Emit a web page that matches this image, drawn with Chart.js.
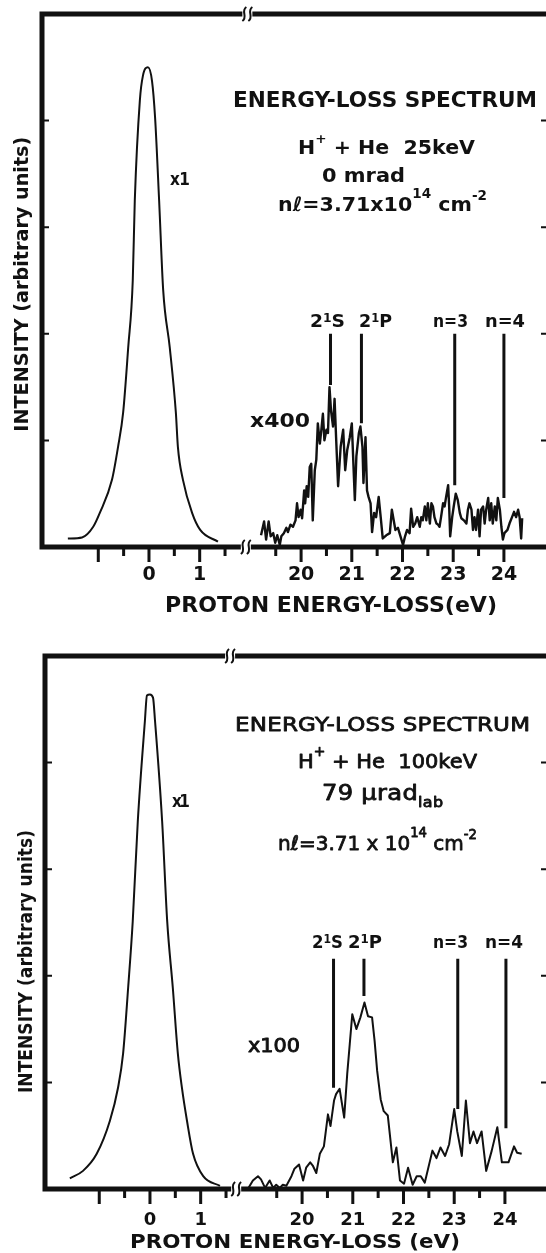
<!DOCTYPE html>
<html>
<head>
<meta charset="utf-8">
<script src="https://cdn.jsdelivr.net/npm/chart.js@4.4.1/dist/chart.umd.min.js"></script>
<style>
  html, body { margin: 0; padding: 0; background: #fff; }
  #wrap { position: relative; width: 546px; height: 1253px; overflow: hidden; }
  canvas { position: absolute; left: 0; }
</style>
</head>
<body>
<div id="wrap">
  <canvas id="top" width="546" height="620" style="top:0"></canvas>
  <canvas id="bot" width="546" height="633" style="top:620px"></canvas>
</div>
<script>
// ---- data (energy loss in eV, intensity in arbitrary units) ----
// the axis is broken: energies above BREAK_E are drawn shifted left by AXIS_SHIFT
const BREAK_E = 10;
const AXIS_SHIFT = 17;

// panel 1: H+ + He 25 keV, 0 mrad
const peak1E = [-1.60, -1.32, -1.10, -0.97, -0.73, -0.61, -0.51, -0.41, -0.32, -0.28, -0.18, -0.12, -0.02, 0.06, 0.12, 0.20, 0.28, 0.41, 0.53, 0.57, 0.67, 0.85, 1.01, 1.36];
const peak1I = [0.08, 0.09, 0.19, 0.32, 0.63, 0.94, 1.26, 1.87, 2.50, 3.25, 4.19, 4.42, 4.50, 4.37, 4.03, 3.25, 2.41, 1.87, 1.26, 0.94, 0.63, 0.32, 0.16, 0.05];
const spec1E = [19.21, 19.27, 19.31, 19.36, 19.40, 19.45, 19.49, 19.53, 19.58, 19.61,
  19.66, 19.71, 19.74, 19.79, 19.84, 19.89, 19.92, 19.95, 19.99, 20.02,
  20.06, 20.08, 20.11, 20.14, 20.17, 20.20, 20.23, 20.27, 20.30, 20.33,
  20.37, 20.40, 20.43, 20.46, 20.50, 20.53, 20.56, 20.59, 20.63, 20.66,
  20.69, 20.73, 20.78, 20.83, 20.87, 20.91, 20.96, 21.00, 21.06, 21.09,
  21.14, 21.17, 21.21, 21.23, 21.27, 21.30, 21.33, 21.37, 21.40, 21.44,
  21.48, 21.53, 21.57, 21.61, 21.68, 21.75, 21.79, 21.86, 21.91, 21.96,
  22.01, 22.05, 22.09, 22.14, 22.17, 22.21, 22.25, 22.29, 22.34, 22.37,
  22.40, 22.44, 22.47, 22.50, 22.54, 22.57, 22.60, 22.63, 22.67, 22.70,
  22.73, 22.76, 22.80, 22.83, 22.86, 22.90, 22.92, 22.94, 22.98, 23.01,
  23.05, 23.09, 23.13, 23.16, 23.21, 23.26, 23.29, 23.32, 23.36, 23.39,
  23.42, 23.45, 23.49, 23.52, 23.55, 23.59, 23.62, 23.65, 23.69, 23.72,
  23.75, 23.78, 23.82, 23.85, 23.88, 23.92, 23.95, 23.98, 24.01, 24.07,
  24.11, 24.16, 24.20, 24.24, 24.28, 24.31, 24.34, 24.36];
const spec1I = [0.11, 0.24, 0.07, 0.24, 0.10, 0.13, 0.04, 0.11, 0.02, 0.10,
  0.13, 0.18, 0.14, 0.21, 0.19, 0.25, 0.41, 0.28, 0.35, 0.27,
  0.53, 0.41, 0.57, 0.47, 0.75, 0.78, 0.25, 0.72, 0.82, 1.16,
  0.97, 1.10, 1.25, 1.00, 1.10, 1.07, 1.50, 1.28, 1.13, 1.39,
  1.03, 0.57, 0.94, 1.10, 0.72, 0.91, 1.03, 1.16, 0.44, 0.85,
  1.07, 1.13, 0.94, 0.60, 1.03, 0.53, 0.47, 0.41, 0.14, 0.32,
  0.28, 0.47, 0.28, 0.08, 0.11, 0.13, 0.35, 0.16, 0.18, 0.10,
  0.02, 0.10, 0.16, 0.13, 0.36, 0.19, 0.22, 0.28, 0.19, 0.28,
  0.25, 0.38, 0.25, 0.41, 0.22, 0.41, 0.38, 0.28, 0.22, 0.21,
  0.19, 0.28, 0.41, 0.38, 0.47, 0.58, 0.38, 0.10, 0.28, 0.38,
  0.50, 0.44, 0.32, 0.27, 0.25, 0.22, 0.35, 0.41, 0.35, 0.16,
  0.28, 0.16, 0.35, 0.10, 0.35, 0.38, 0.22, 0.35, 0.46, 0.25,
  0.41, 0.22, 0.38, 0.25, 0.46, 0.35, 0.19, 0.07, 0.13, 0.16,
  0.22, 0.28, 0.33, 0.28, 0.35, 0.28, 0.08, 0.27];
const level1E = [20.58, 21.19, 23.03, 24.00];
const level1Low = [1.52, 1.16, 0.58, 0.46];
const level1High = 2.00;

// panel 2: H+ + He 100 keV, 79 urad lab
const peak2E = [-1.58, -1.32, -1.05, -0.79, -0.63, -0.53, -0.43, -0.34, -0.24, -0.10, -0.06, 0, 0.06, 0.10, 0.24, 0.34, 0.45, 0.55, 0.63, 0.73, 0.85, 1.05, 1.38];
const peak2I = [0.10, 0.17, 0.33, 0.64, 0.95, 1.27, 1.89, 2.51, 3.45, 4.39, 4.63, 4.64, 4.61, 4.39, 3.45, 2.51, 1.89, 1.27, 0.95, 0.64, 0.33, 0.12, 0.03];
const spec2E = [18.93, 19.03, 19.13, 19.19, 19.27, 19.36, 19.43, 19.49, 19.56, 19.62,
  19.69, 19.79, 19.85, 19.94, 20.02, 20.08, 20.16, 20.21, 20.28, 20.35,
  20.43, 20.51, 20.56, 20.63, 20.67, 20.74, 20.83, 20.89, 20.94, 20.99,
  21.07, 21.15, 21.23, 21.30, 21.38, 21.43, 21.48, 21.55, 21.61, 21.69,
  21.79, 21.86, 21.93, 22.01, 22.09, 22.18, 22.26, 22.34, 22.42, 22.57,
  22.65, 22.73, 22.82, 22.90, 23.00, 23.06, 23.15, 23.23, 23.31, 23.38,
  23.45, 23.54, 23.63, 23.74, 23.85, 23.94, 24.07, 24.18, 24.24, 24.33];
const spec2I = [0.00, 0.08, 0.12, 0.09, 0.01, 0.08, 0.01, 0.04, 0.01, 0.04,
  0.03, 0.12, 0.19, 0.23, 0.08, 0.20, 0.25, 0.22, 0.15, 0.33,
  0.40, 0.70, 0.59, 0.83, 0.89, 0.94, 0.67, 1.08, 1.36, 1.64,
  1.50, 1.61, 1.75, 1.62, 1.61, 1.39, 1.11, 0.84, 0.73, 0.69,
  0.25, 0.39, 0.08, 0.05, 0.20, 0.04, 0.12, 0.12, 0.06, 0.36,
  0.29, 0.39, 0.31, 0.42, 0.75, 0.54, 0.31, 0.83, 0.43, 0.54,
  0.43, 0.54, 0.17, 0.36, 0.58, 0.25, 0.25, 0.40, 0.34, 0.33];
const level2E = [20.62, 21.22, 23.07, 24.02];
const level2Low = [0.95, 1.81, 0.75, 0.57];
const level2High = 2.16;

// axes
const majorTicks = [-1, 0, 1, 20, 21, 22, 23, 24];
const tickLabels = ['', '0', '1', '20', '21', '22', '23', '24'];
const minorTicks = [-0.5, 0.5, 1.5, 19.5, 20.5, 21.5, 22.5, 23.5];
const yTicks = [1, 2, 3, 4];

// ---- helpers ----
const INK = '#111';
const FAMILY = '"DejaVu Sans", sans-serif';
const toAxis = e => e > BREAK_E ? e - AXIS_SHIFT : e;
const pts = (xs, ys) => xs.map((e, i) => ({ x: toAxis(e), y: ys[i] }));
const levelPts = (es, lows, high) => es.flatMap((e, i) => [
  { x: toAxis(e), y: lows[i] }, { x: toAxis(e), y: high }, { x: toAxis(e), y: null }
]);

// text made of parts [string, raise]; raise != 0 means small raised/lowered text.
// the lettering is stretched (a bit of width, the rest as spacing) to run from x1 to x2
function drawRich(ctx, parts, x1, x2, base, size, weight, thick) {
  if (typeof parts === 'string') parts = [[parts, 0]];
  ctx.letterSpacing = '0px';
  const segs = parts.map(([t, r]) => {
    const s = r ? size * 0.66 : size;
    ctx.font = `${weight} ${s}px ${FAMILY}`;
    return { t, r, s, w: ctx.measureText(t).width, n: [...t].length };
  });
  const n = segs.reduce((a, g) => a + g.n, 0);
  const natural = segs.reduce((a, g) => a + g.w, 0);
  const target = x2 - x1;
  const sx = Math.min(1.15, Math.max(0.85, target / natural));
  const gap = n > 1 ? (target - natural * sx) / (n - 1) / sx : 0;
  ctx.save();
  ctx.translate(x1, base);
  ctx.scale(sx, 1);
  ctx.strokeStyle = INK;
  ctx.lineWidth = thick || 0;
  ctx.lineJoin = 'round';
  let x = 0;
  segs.forEach(g => {
    ctx.font = `${weight} ${g.s}px ${FAMILY}`;
    ctx.letterSpacing = gap + 'px';
    ctx.fillText(g.t, x, -g.r * size);
    if (thick) ctx.strokeText(g.t, x, -g.r * size);
    x += g.w + gap * g.n;
  });
  ctx.restore();
  ctx.letterSpacing = '0px';
}

function squiggle(ctx, px, py) {
  ctx.fillStyle = '#fff';
  ctx.fillRect(px - 5, py - 4, 10, 8);
  ctx.lineWidth = 2;
  for (const dx of [-3, 3]) {
    ctx.beginPath();
    ctx.moveTo(px + dx - 2, py + 7);
    ctx.bezierCurveTo(px + dx + 4, py + 3, px + dx - 4, py - 3, px + dx + 2, py - 7);
    ctx.stroke();
  }
}

function framePlugin(o) {
  return {
    id: 'frame',
    afterDatasetsDraw(chart) {
      const { ctx, chartArea: a, scales: { x, y } } = chart;
      ctx.save();
      ctx.strokeStyle = INK;
      ctx.lineWidth = 5;
      ctx.beginPath();
      ctx.moveTo(a.left - 2.5, a.top); ctx.lineTo(a.right, a.top);
      ctx.moveTo(a.left - 2.5, a.bottom); ctx.lineTo(a.right, a.bottom);
      ctx.moveTo(a.left, a.top); ctx.lineTo(a.left, a.bottom);
      ctx.stroke();
      // x ticks hang below the axis
      ctx.lineWidth = 3;
      ctx.beginPath();
      majorTicks.forEach(v => { const px = x.getPixelForValue(toAxis(v)); ctx.moveTo(px, a.bottom); ctx.lineTo(px, a.bottom + 15); });
      minorTicks.forEach(v => { const px = x.getPixelForValue(toAxis(v)); ctx.moveTo(px, a.bottom); ctx.lineTo(px, a.bottom + 9); });
      ctx.stroke();
      // y ticks point inwards, on both sides
      ctx.lineWidth = 2;
      ctx.beginPath();
      yTicks.forEach(v => {
        const py = y.getPixelForValue(v);
        ctx.moveTo(a.left, py); ctx.lineTo(a.left + 7, py);
        ctx.moveTo(a.right - 5, py); ctx.lineTo(a.right, py);
      });
      ctx.stroke();
      squiggle(ctx, x.getPixelForValue(o.breakTop), a.top);
      squiggle(ctx, x.getPixelForValue(o.breakBottom), a.bottom);
      ctx.restore();
    },
    afterDraw(chart) {
      const ctx = chart.ctx;
      ctx.save();
      ctx.fillStyle = INK;
      ctx.textBaseline = 'alphabetic';
      ctx.textAlign = 'left';
      o.texts.forEach(t => {
        if (t.rot) {
          ctx.save();
          ctx.translate(t.x, t.y1);
          ctx.rotate(-Math.PI / 2);
          drawRich(ctx, t.p, 0, t.y1 - t.y2, 0, t.s, t.w, t.k);
          ctx.restore();
        } else {
          drawRich(ctx, t.p, t.x1, t.x2, t.b, t.s, t.w, t.k);
        }
      });
      ctx.restore();
    }
  };
}

function makeChart(id, o) {
  return new Chart(document.getElementById(id), {
    type: 'line',
    data: {
      datasets: [
        { data: o.peak, borderColor: INK, borderWidth: 2, cubicInterpolationMode: 'monotone' },
        { data: o.spec, borderColor: INK, borderWidth: o.specWidth, tension: 0 },
        { data: o.levels, borderColor: INK, borderWidth: 3, spanGaps: false }
      ]
    },
    options: {
      responsive: false,
      animation: false,
      devicePixelRatio: 1,
      layout: { padding: { left: o.left, top: o.top, right: 0, bottom: 0 } },
      elements: {
        point: { radius: 0 },
        line: { fill: false, borderJoinStyle: 'round', borderCapStyle: 'butt' }
      },
      plugins: { legend: { display: false }, tooltip: { enabled: false }, colors: { enabled: false } },
      scales: {
        x: {
          type: 'linear', min: o.xmin, max: o.xmax,
          border: { display: false },
          grid: { display: false, drawTicks: false },
          afterBuildTicks: s => { s.ticks = majorTicks.map(v => ({ value: toAxis(v) })); },
          afterFit: s => { s.height = o.axisH; },
          ticks: {
            padding: o.tickPad, color: INK, maxRotation: 0, autoSkip: false,
            font: { family: FAMILY, size: o.tickSize, weight: 'bold' },
            callback: (v, i) => tickLabels[i]
          }
        },
        y: { display: false, min: 0, max: 5 }
      }
    },
    plugins: [framePlugin(o)]
  });
}

const B = 'bold', N = 'normal';

makeChart('top', {
  peak: pts(peak1E, peak1I), spec: pts(spec1E, spec1I), levels: levelPts(level1E, level1Low, level1High),
  specWidth: 2.4, left: 42, top: 14, axisH: 73, xmin: -2.11, xmax: 7.83,
  tickPad: 17, tickSize: 19, breakTop: 1.94, breakBottom: 1.91,
  texts: [
    { p: 'ENERGY-LOSS SPECTRUM', x1: 233, x2: 537, b: 107, s: 21, w: B },
    { p: [['H', 0], ['+', 0.6], [' + He  25keV', 0]], x1: 298, x2: 475, b: 154, s: 19, w: B },
    { p: '0 mrad', x1: 322, x2: 405, b: 182, s: 20, w: B },
    { p: [['n\u2113=3.71x10', 0], ['14', 0.65], [' cm', 0], ['-2', 0.55]], x1: 278, x2: 487, b: 211, s: 20, w: B },
    { p: 'x1', x1: 170, x2: 190, b: 185, s: 18, w: B },
    { p: 'x400', x1: 250, x2: 310, b: 427, s: 20, w: B },
    { p: [['2', 0], ['1', 0.3], ['S', 0]], x1: 310, x2: 345, b: 327, s: 18, w: B },
    { p: [['2', 0], ['1', 0.3], ['P', 0]], x1: 359, x2: 392, b: 327, s: 18, w: B },
    { p: 'n=3', x1: 433, x2: 468, b: 327, s: 17, w: B },
    { p: 'n=4', x1: 485, x2: 525, b: 327, s: 18, w: B },
    { p: 'PROTON ENERGY-LOSS(eV)', x1: 165, x2: 497, b: 612, s: 21, w: B },
    { rot: true, p: 'INTENSITY (arbitrary units)', x: 28.3, y1: 431.7, y2: 136.7, s: 20, w: B }
  ]
});

makeChart('bot', {
  peak: pts(peak2E, peak2I), spec: pts(spec2E, spec2I), levels: levelPts(level2E, level2Low, level2High),
  specWidth: 2, left: 45, top: 36, axisH: 64, xmin: -2.07, xmax: 7.81,
  tickPad: 21, tickSize: 18, breakTop: 1.58, breakBottom: 1.70,
  texts: [
    { p: 'ENERGY-LOSS SPECTRUM', x1: 235, x2: 530, b: 111, s: 20, w: N, k: 0.8 },
    { p: [['H', 0], ['+', 0.6], [' + He  100keV', 0]], x1: 298, x2: 477, b: 148, s: 20, w: N, k: 0.8 },
    { p: [['79 \u03bcrad', 0], ['lab', -0.35]], x1: 322, x2: 443, b: 180, s: 21, w: N, k: 0.8 },
    { p: [['n\u2113=3.71 x 10', 0], ['14', 0.65], [' cm', 0], ['-2', 0.55]], x1: 278, x2: 477, b: 230, s: 20, w: N, k: 0.8 },
    { p: 'x1', x1: 172, x2: 190, b: 187, s: 18, w: B },
    { p: 'x100', x1: 248, x2: 300, b: 432, s: 19, w: N, k: 0.9 },
    { p: [['2', 0], ['1', 0.3], ['S', 0]], x1: 312, x2: 343, b: 328, s: 18, w: B },
    { p: [['2', 0], ['1', 0.3], ['P', 0]], x1: 348, x2: 382, b: 328, s: 18, w: B },
    { p: 'n=3', x1: 433, x2: 468, b: 328, s: 17, w: B },
    { p: 'n=4', x1: 485, x2: 523, b: 328, s: 18, w: B },
    { p: 'PROTON ENERGY-LOSS (eV)', x1: 130, x2: 460, b: 628, s: 20, w: B },
    { rot: true, p: 'INTENSITY (arbitrary units)', x: 31.7, y1: 473, y2: 210, s: 19, w: B }
  ]
});
</script>
</body>
</html>
